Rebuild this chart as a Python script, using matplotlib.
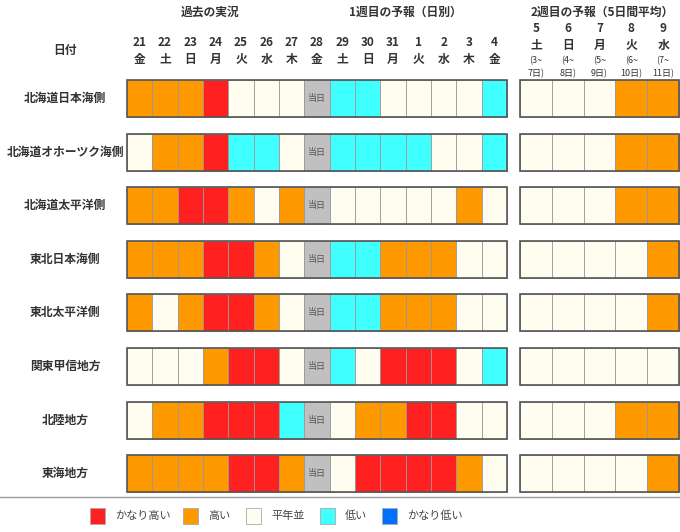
import matplotlib.pyplot as plt
from matplotlib.patches import Rectangle

plt.rcParams['font.family'] = ['Noto Sans CJK JP', 'DejaVu Sans']

regions = ['北海道日本海側', '北海道オホーツク海側', '北海道太平洋側', '東北日本海側',
           '東北太平洋側', '関東甲信地方', '北陸地方', '東海地方']
days = ['21', '22', '23', '24', '25', '26', '27', '28', '29', '30', '31', '1', '2', '3', '4']
wdays = ['金', '土', '日', '月', '火', '水', '木', '金', '土', '日', '月', '火', '水', '木', '金']
wk_days = ['5', '6', '7', '8', '9']
wk_wdays = ['土', '日', '月', '火', '水']
wk_ranges = [('(3~', '7日)'), ('(4~', '8日)'), ('(5~', '9日)'), ('(6~', '10日)'), ('(7~', '11日)')]

# 2=かなり高い 1=高い 0=平年並 -1=低い -2=かなり低い 9=当日
daily = [
    [1, 1, 1, 2, 0, 0, 0, 9, -1, -1, 0, 0, 0, 0, -1],
    [0, 1, 1, 2, -1, -1, 0, 9, -1, -1, -1, -1, 0, 0, -1],
    [1, 1, 2, 2, 1, 0, 1, 9, 0, 0, 0, 0, 0, 1, 0],
    [1, 1, 1, 2, 2, 1, 0, 9, -1, -1, 1, 1, 1, 0, 0],
    [1, 0, 1, 2, 2, 1, 0, 9, -1, -1, 1, 1, 1, 0, 0],
    [0, 0, 0, 1, 2, 2, 0, 9, -1, 0, 2, 2, 2, 0, -1],
    [0, 1, 1, 2, 2, 2, -1, 9, 0, 1, 1, 2, 2, 0, 0],
    [1, 1, 1, 1, 2, 2, 1, 9, 0, 2, 2, 2, 2, 1, 0],
]
weekly = [
    [0, 0, 0, 1, 1],
    [0, 0, 0, 1, 1],
    [0, 0, 0, 1, 1],
    [0, 0, 0, 0, 1],
    [0, 0, 0, 0, 1],
    [0, 0, 0, 0, 0],
    [0, 0, 0, 1, 1],
    [0, 0, 0, 0, 1],
]
legend_codes = [2, 1, 0, -1, -2]
legend_labels = ['かなり高い', '高い', '平年並', '低い', 'かなり低い']

colors = {2: '#ff2020', 1: '#ff9900', 0: '#fffdf0', -1: '#40ffff', -2: '#0070ff', 9: '#c0c0c0'}

fig = plt.figure(figsize=(6.8, 5.32), dpi=100)
ax = fig.add_axes([0, 0, 1, 1])
ax.set_xlim(0, 680)
ax.set_ylim(532, 0)
ax.axis('off')

x0, cw = 127, 25.33
wx0, ww = 520, 31.8
y0, rh, dy = 80, 37, 53.6

tx = dict(ha='center', va='center', fontsize=8.5, fontweight='bold', color='#333333')
ax.text(210, 12, '過去の実況', **tx)
ax.text(405, 12, '1週目の予報（日別）', **tx)
ax.text(602, 12, '2週目の予報（5日間平均）', **tx)
ax.text(65, 50, '日付', **tx)
for i, (d, w) in enumerate(zip(days, wdays)):
    cx = x0 + (i + 0.5) * cw
    ax.text(cx, 42, d, **tx)
    ax.text(cx, 59, w, **tx)
for i, (d, w) in enumerate(zip(wk_days, wk_wdays)):
    cx = wx0 + (i + 0.5) * ww
    ax.text(cx, 28, d, **tx)
    ax.text(cx, 45, w, **tx)
    ax.text(cx, 61, wk_ranges[i][0], ha='center', va='center', fontsize=6.5, color='#333333')
    ax.text(cx, 74, wk_ranges[i][1], ha='center', va='center', fontsize=6.5, color='#333333')

for r, name in enumerate(regions):
    ty = y0 + r * dy
    ax.text(65, ty + rh / 2, name, **tx)
    for i, v in enumerate(daily[r]):
        ax.add_patch(Rectangle((x0 + i * cw, ty), cw, rh, fc=colors[v], ec='#999999', lw=0.6))
        if v == 9:
            ax.text(x0 + (i + 0.5) * cw, ty + rh / 2, '当日', ha='center', va='center',
                    fontsize=6.5, color='#555555')
    ax.add_patch(Rectangle((x0, ty), cw * len(days), rh, fc='none', ec='#555555', lw=1.2))
    for i, v in enumerate(weekly[r]):
        ax.add_patch(Rectangle((wx0 + i * ww, ty), ww, rh, fc=colors[v], ec='#999999', lw=0.6))
    ax.add_patch(Rectangle((wx0, ty), ww * len(wk_days), rh, fc='none', ec='#555555', lw=1.2))

ax.plot([0, 680], [497, 497], color='#999999', lw=1)
lx = [90, 183, 246, 320, 382]
for x, c, lab in zip(lx, legend_codes, legend_labels):
    ax.add_patch(Rectangle((x, 508), 15, 16, fc=colors[c], ec='#aaaaaa', lw=0.6))
    ax.text(x + 25, 516, lab, ha='left', va='center', fontsize=8, color='#444444')

fig.savefig('out.png', dpi=100)
